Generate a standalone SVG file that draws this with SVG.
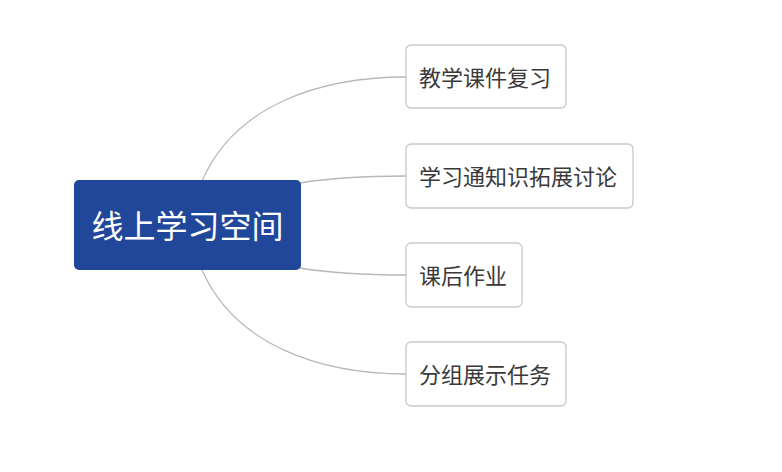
<svg xmlns="http://www.w3.org/2000/svg" width="782" height="472" viewBox="0 0 782 472">
<style>
.conn{fill:none;stroke:#b8b8b8;stroke-width:1.3}
.child rect{fill:#fff;stroke:#c9c9c9;stroke-width:1.3}
.child text{font-family:"Noto Sans CJK SC","Noto Sans",sans-serif;font-size:22px;fill:#3a3a3a;dominant-baseline:central}
.root text{font-family:"Noto Sans CJK SC","Noto Sans",sans-serif;font-size:32px;fill:#fff;text-anchor:middle;dominant-baseline:central}
</style>
<rect width="782" height="472" fill="#fff"/>
<g id="connectors">
<path class="conn" d="M202,181 C235,105 320,77 406,77"/>
<path class="conn" d="M300,183 C330,178 360,176 406,176"/>
<path class="conn" d="M300,268 C330,273 360,275 406,275"/>
<path class="conn" d="M202,270 C235,345 320,374 406,374"/>
</g>
<g id="root" class="root">
<rect x="74" y="180" width="227" height="90" rx="5" fill="#21479b"/>
<text x="187.5" y="224">线上学习空间</text>
</g>
<g id="n1" class="child">
<rect x="406" y="45" width="160" height="63" rx="5"/>
<text x="419" y="75.5">教学课件复习</text>
</g>
<g id="n2" class="child">
<rect x="406" y="144" width="227" height="64" rx="5"/>
<text x="419" y="175">学习通知识拓展讨论</text>
</g>
<g id="n3" class="child">
<rect x="406" y="243" width="116" height="64" rx="5"/>
<text x="419" y="274">课后作业</text>
</g>
<g id="n4" class="child">
<rect x="406" y="342" width="160" height="64" rx="5"/>
<text x="419" y="373">分组展示任务</text>
</g>
</svg>
